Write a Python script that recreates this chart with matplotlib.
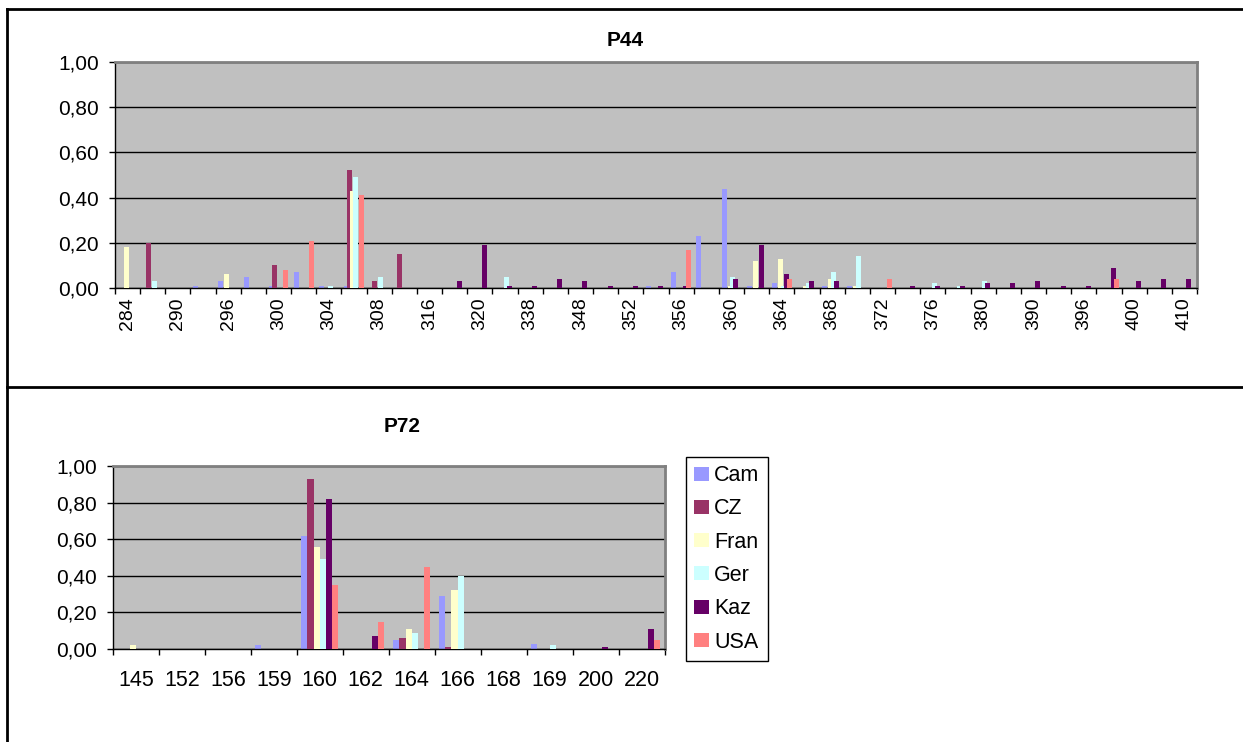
import numpy as np
import matplotlib
matplotlib.use("Agg")
import matplotlib.pyplot as plt
from matplotlib.lines import Line2D
from matplotlib.ticker import FuncFormatter

plt.rcParams['font.family'] = ['Liberation Sans', 'DejaVu Sans']

W, H = 1243, 742

series = ["Cam", "CZ", "Fran", "Ger", "Kaz", "USA"]
colors = ["#9999FF", "#993366", "#FFFFCC", "#CCFFFF", "#660066", "#FF8080"]

# ---- P44 allele frequencies ----
p44_alleles = [284, 288, 290, 292, 296, 298, 300, 302, 304, 306, 308, 312, 316, 318,
               320, 336, 338, 344, 348, 350, 352, 354, 356, 358, 360, 362, 364, 366,
               368, 370, 372, 374, 376, 378, 380, 386, 390, 392, 396, 398, 400, 404, 410]
p44_cam  = [0, 0, 0, 0.01, 0.03, 0.05, 0.01, 0.07, 0.01, 0.01, 0, 0, 0, 0,
            0, 0, 0, 0, 0, 0, 0, 0.01, 0.07, 0.23, 0.44, 0.01, 0.02, 0,
            0.01, 0.01, 0, 0, 0, 0, 0, 0, 0, 0, 0, 0, 0, 0, 0]
p44_cz   = [0, 0.20, 0, 0, 0, 0, 0.10, 0, 0, 0.52, 0.03, 0.15, 0, 0,
            0, 0, 0, 0, 0, 0, 0, 0, 0, 0, 0, 0, 0, 0,
            0, 0, 0, 0, 0, 0, 0, 0, 0, 0, 0, 0, 0, 0, 0]
p44_fran = [0.18, 0, 0, 0, 0.06, 0, 0, 0, 0, 0.43, 0, 0, 0, 0,
            0, 0, 0, 0, 0, 0, 0, 0, 0, 0, 0.01, 0.12, 0.13, 0.01,
            0.04, 0.01, 0, 0, 0, 0, 0, 0, 0, 0, 0, 0, 0, 0, 0]
p44_ger  = [0, 0.03, 0, 0, 0, 0, 0, 0, 0.01, 0.49, 0.05, 0, 0, 0,
            0, 0.05, 0, 0, 0, 0, 0, 0, 0, 0, 0.05, 0, 0.01, 0.02,
            0.07, 0.14, 0, 0, 0.02, 0.01, 0.03, 0, 0, 0, 0, 0, 0, 0, 0]
p44_kaz  = [0, 0, 0, 0, 0, 0, 0, 0, 0, 0, 0, 0, 0, 0.03,
            0.19, 0.01, 0.01, 0.04, 0.03, 0.01, 0.01, 0.01, 0.01, 0, 0.04, 0.19, 0.06, 0.03,
            0.03, 0, 0, 0.01, 0.01, 0.01, 0.02, 0.02, 0.03, 0.01, 0.01, 0.09, 0.03, 0.04, 0.04]
p44_usa  = [0, 0, 0, 0, 0, 0, 0.08, 0.21, 0, 0.41, 0, 0, 0, 0,
            0, 0, 0, 0, 0, 0, 0, 0, 0.17, 0, 0, 0, 0.04, 0,
            0, 0, 0.04, 0, 0, 0, 0, 0, 0, 0, 0, 0.04, 0, 0, 0]

# ---- P72 allele frequencies ----
p72_alleles = [145, 152, 156, 159, 160, 162, 164, 166, 168, 169, 200, 220]
p72_cam  = [0, 0, 0, 0.02, 0.62, 0, 0.05, 0.29, 0, 0.03, 0, 0]
p72_cz   = [0, 0, 0, 0, 0.93, 0, 0.06, 0.01, 0, 0, 0, 0]
p72_fran = [0.02, 0, 0, 0, 0.56, 0, 0.11, 0.32, 0, 0, 0, 0]
p72_ger  = [0, 0, 0, 0, 0.49, 0, 0.09, 0.40, 0, 0.02, 0, 0]
p72_kaz  = [0, 0, 0, 0, 0.82, 0.07, 0, 0, 0, 0, 0.01, 0.11]
p72_usa  = [0, 0, 0, 0, 0.35, 0.15, 0.45, 0, 0, 0, 0, 0.05]


def fx(x):
    return x / W


def fy(y):
    return 1 - y / H


def comma_fmt(v, pos):
    return f"{v:.2f}".replace(".", ",")


def style_axes(ax, ncat, labels, label_pos, yfont, xfont, rotation, pad):
    ax.set_facecolor("#C0C0C0")
    ax.set_xlim(-0.5, ncat - 0.5)
    ax.set_ylim(0, 1)
    ax.set_yticks(np.arange(0, 1.01, 0.2))
    ax.yaxis.set_major_formatter(FuncFormatter(comma_fmt))
    ax.yaxis.grid(True, color="black", linewidth=1)
    ax.set_axisbelow(True)
    ax.tick_params(axis="y", direction="out", length=4.5, width=1,
                   labelsize=yfont, pad=7)
    # tick marks between categories, labels on category centres
    ax.set_xticks(np.arange(-0.5, ncat, 1))
    ax.set_xticklabels([])
    ax.tick_params(axis="x", which="major", direction="out", length=4, width=1)
    ax.set_xticks(label_pos, labels=[str(v) for v in labels], minor=True)
    ax.tick_params(axis="x", which="minor", length=0, labelsize=xfont,
                   labelrotation=rotation, pad=pad)
    for s in ("top", "right"):
        ax.spines[s].set_color("#808080")
        ax.spines[s].set_linewidth(2)
    for s in ("left", "bottom"):
        ax.spines[s].set_color("black")
        ax.spines[s].set_linewidth(1)


fig = plt.figure(figsize=(W / 100, H / 100), dpi=100)

# top chart: P44
ax1 = fig.add_axes([fx(115), fy(288), fx(1197) - fx(115), fy(62) - fy(288)])
p44 = [p44_cam, p44_cz, p44_fran, p44_ger, p44_kaz, p44_usa]
x1 = np.arange(len(p44_alleles))
step1, w1 = 0.117, 0.2
for i, (vals, c) in enumerate(zip(p44, colors)):
    ax1.bar(x1 + (i - 2.5) * step1, vals, width=w1, color=c, linewidth=0, zorder=2 + i)
style_axes(ax1, len(p44_alleles), p44_alleles[::2], x1[::2], 15, 14, 90, 7)

# bottom chart: P72
ax2 = fig.add_axes([fx(113), fy(649), fx(664.5) - fx(113), fy(466) - fy(649)])
p72 = [p72_cam, p72_cz, p72_fran, p72_ger, p72_kaz, p72_usa]
x2 = np.arange(len(p72_alleles))
w2 = 0.135
for i, (vals, c, name) in enumerate(zip(p72, colors, series)):
    ax2.bar(x2 + (i - 2.5) * w2, vals, width=w2, color=c, linewidth=0,
            zorder=2 + i, label=name)
style_axes(ax2, len(p72_alleles), p72_alleles, x2, 15, 15.5, 0, 15)

leg = ax2.legend(loc="upper left", bbox_to_anchor=(fx(686), fy(457)),
                 bbox_transform=fig.transFigure, fontsize=15.5, frameon=True,
                 fancybox=False, edgecolor="black", framealpha=1,
                 handlelength=0.68, handleheight=0.62, handletextpad=0.25,
                 labelspacing=0.57, borderpad=0.38, borderaxespad=0)
leg.get_frame().set_linewidth(1)

fig.text(fx(625), fy(40), "P44", ha="center", va="center", fontsize=15,
         fontweight="bold")
fig.text(fx(402), fy(427), "P72", ha="center", va="center", fontsize=15,
         fontweight="bold")

# table frame lines around the two charts
for xs, ys in [((7, 7), (8.5, H)), ((7, W), (8.5, 8.5)), ((7, W), (387, 387))]:
    fig.add_artist(Line2D([fx(v) for v in xs], [fy(v) for v in ys],
                          transform=fig.transFigure, color="black", linewidth=2))

fig.savefig("out.png", dpi=100)
